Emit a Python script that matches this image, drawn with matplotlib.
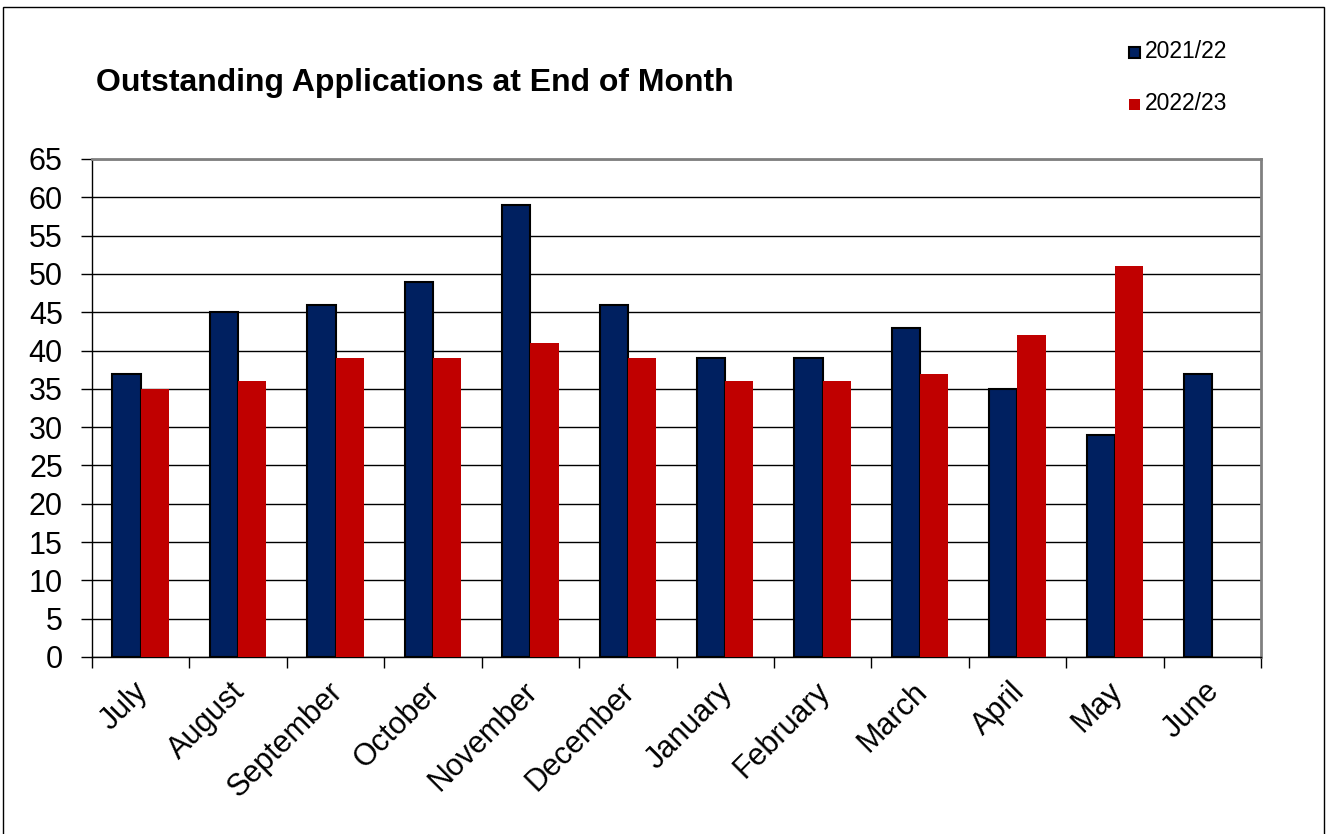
import matplotlib.pyplot as plt
import matplotlib.patches as mpatches
import matplotlib.transforms as mtransforms
import numpy as np

plt.rcParams['font.family'] = ['Liberation Sans', 'DejaVu Sans']

months = ["July", "August", "September", "October", "November", "December",
          "January", "February", "March", "April", "May", "June"]
y2122 = [37, 45, 46, 49, 59, 46, 39, 39, 43, 35, 29, 37]
y2223 = [35, 36, 39, 39, 41, 39, 36, 36, 37, 42, 51, np.nan]
yticks = list(range(0, 70, 5))

navy = '#002060'
red = '#C00000'

fig = plt.figure(figsize=(13.28, 8.34), dpi=100)
W, H = 1328, 834
ax = fig.add_axes([92 / W, 1 - 657 / H, (1261 - 92) / W, (657 - 159) / H])

x = np.arange(len(months))
w = 0.29
ax.bar(x - w / 2, y2122, w, color=navy, edgecolor='black', linewidth=1.5, zorder=3)
ax.bar(x + w / 2, y2223, w, color=red, edgecolor='none', zorder=3)

ax.set_xlim(-0.5, len(months) - 0.5)
ax.set_ylim(0, 65)
ax.set_yticks(yticks)
ax.set_yticklabels([str(t) for t in yticks], fontsize=22)
ax.yaxis.grid(True, color='black', linewidth=1, zorder=0)
ax.set_axisbelow(True)

# category labels at centers, tick marks between categories
ax.set_xticks(x)
ax.set_xticklabels(months, rotation=45, ha='right', rotation_mode='anchor', fontsize=22)
ax.tick_params(axis='x', length=0, pad=14)
shift = mtransforms.ScaledTranslation(-8 / 100, 0, fig.dpi_scale_trans)
for lbl in ax.get_xticklabels():
    lbl.set_transform(lbl.get_transform() + shift)
ax.set_xticks(np.arange(-0.5, len(months)), minor=True)
ax.tick_params(axis='x', which='minor', length=8, width=1, color='black')
ax.tick_params(axis='y', length=8, width=1, color='black', pad=13)

for s in ['top', 'right']:
    ax.spines[s].set_color('#808080')
    ax.spines[s].set_linewidth(2)
for s in ['left', 'bottom']:
    ax.spines[s].set_color('black')
    ax.spines[s].set_linewidth(1)

fig.text(96 / W, 1 - 83 / H, "Outstanding Applications at End of Month",
         fontsize=23, fontweight='bold', va='center', ha='left')

# legend
fig.patches.append(mpatches.Rectangle((1129 / W, 1 - 58 / H), 11 / W, 11 / H,
                                      transform=fig.transFigure, facecolor=navy,
                                      edgecolor='black', linewidth=1.5))
fig.text(1145 / W, 1 - 52 / H, "2021/22", fontsize=16.5, va='center', ha='left')
fig.patches.append(mpatches.Rectangle((1129 / W, 1 - 110 / H), 11 / W, 11 / H,
                                      transform=fig.transFigure, facecolor=red,
                                      edgecolor='none'))
fig.text(1145 / W, 1 - 104 / H, "2022/23", fontsize=16.5, va='center', ha='left')

# outer frame
fig.patches.append(mpatches.Rectangle((3 / W, -0.01), (1324 - 3) / W, 1 - 7 / H + 0.01,
                                      transform=fig.transFigure, facecolor='none',
                                      edgecolor='black', linewidth=1))

fig.savefig('out.png', dpi=100)
